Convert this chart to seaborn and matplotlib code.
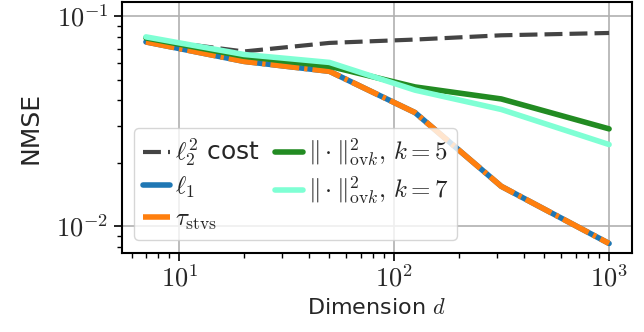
import numpy as np
import pandas as pd
import matplotlib
matplotlib.use('Agg')
import matplotlib.pyplot as plt
import matplotlib.ticker as mticker
import seaborn as sns

dims = [7, 20, 50, 125, 315, 1000]
nmse_l2 = [0.078, 0.068, 0.0747, 0.0775, 0.0812, 0.0833]
nmse_l1 = [0.0755, 0.061, 0.0547, 0.0348, 0.0155, 0.00828]
nmse_stvs = [0.0755, 0.061, 0.0547, 0.0348, 0.0155, 0.00828]
nmse_ovk5 = [0.0789, 0.0645, 0.0578, 0.0461, 0.0404, 0.0291]
nmse_ovk7 = [0.0798, 0.0658, 0.0603, 0.0445, 0.0360, 0.0245]

sns.set_style('ticks')
plt.rcParams['mathtext.fontset'] = 'cm'
plt.rcParams['font.family'] = ['DejaVu Sans']
plt.rcParams['font.size'] = 15.5

fig, ax = plt.subplots(figsize=(6.44, 3.32), dpi=100)
fig.subplots_adjust(left=0.189, right=0.981, top=0.994, bottom=0.238)

lw = 4
sns.lineplot(x=dims, y=nmse_l2, ax=ax, color='#444444', linewidth=3,
             label=r'$\ell_2^2$ cost')
ax.lines[-1].set_dashes([4.3, 1.7])
sns.lineplot(x=dims, y=nmse_l1, ax=ax, color='#1f77b4', linewidth=lw, label=r'$\ell_1$')
sns.lineplot(x=dims, y=nmse_stvs, ax=ax, color='#ff7f0e', linewidth=lw,
             label=r'$\tau_{\mathrm{stvs}}$')
ax.lines[-1].set_dashes([5.2, 0.9, 0.6, 0.9])
sns.lineplot(x=dims, y=nmse_ovk5, ax=ax, color='#228b22', linewidth=lw,
             label=r'$\|\cdot\|_{\mathrm{ov}k}^2,\, k=5$')
sns.lineplot(x=dims, y=nmse_ovk7, ax=ax, color='#7fffd4', linewidth=lw,
             label=r'$\|\cdot\|_{\mathrm{ov}k}^2,\, k=7$')

ax.set_xscale('log')
ax.set_yscale('log')
ax.set_xlim(5.4, 1275)
ax.set_ylim(0.00746, 0.117)
fmt = mticker.FuncFormatter(lambda v, p: r'$10^{%d}$' % round(np.log10(v)))
ax.xaxis.set_major_formatter(fmt)
ax.yaxis.set_major_formatter(fmt)
ax.grid(True, which='major', color='#b0b0b0', linewidth=1.2)
ax.set_xlabel(r'Dimension $d$', fontsize=16)
ax.set_ylabel('NMSE', fontsize=18, labelpad=10)
for s in ax.spines.values():
    s.set_color('black')
    s.set_linewidth(1.5)
ax.tick_params(which='major', direction='out', color='black', length=6, width=1.2, labelsize=19)
ax.tick_params(which='minor', direction='out', color='black', length=3.5, width=1.0)

h, l = ax.get_legend_handles_labels()
ax.legend(h, l, ncol=2, loc='lower left', handlelength=1.1, handletextpad=0.2,
          columnspacing=0.6, labelspacing=0.25, framealpha=0.8, fontsize=18,
          borderpad=0.35)

plt.savefig('out.png')
